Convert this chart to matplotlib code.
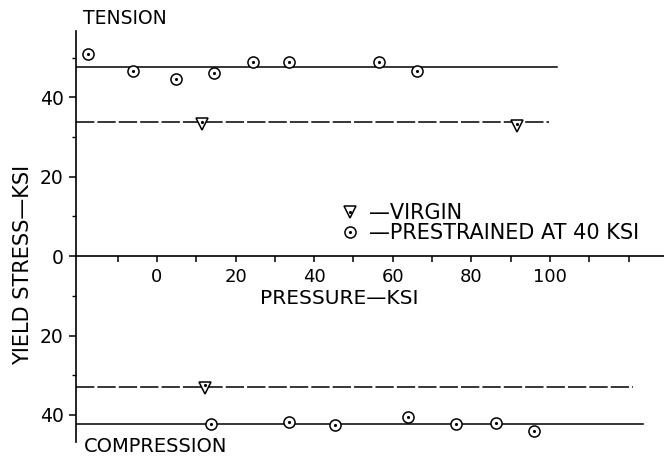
import matplotlib
matplotlib.use("Agg")
import matplotlib.pyplot as plt
from matplotlib.ticker import FixedLocator, FuncFormatter
from matplotlib.lines import Line2D

# tension, prestrained at 40 ksi
ten_pre_p = [-17.6, -6.2, 4.8, 14.5, 24.4, 33.5, 56.6, 66.1]
ten_pre_s = [50.8, 46.6, 44.5, 46.0, 48.9, 49.0, 48.9, 46.6]
# tension, virgin
ten_vir_p = [11.5, 91.5]
ten_vir_s = [33.2, 32.8]
# compression (drawn below zero)
com_pre_p = [13.7, 33.5, 45.2, 63.9, 76.1, 86.3, 95.8]
com_pre_s = [-42.3, -41.7, -42.6, -40.5, -42.3, -42.0, -44.0]
com_vir_p = [12.2]
com_vir_s = [-33.1]

# average levels (value, right end of line)
ten_pre_avg = (47.6, 101.8)
ten_vir_avg = (33.75, 99.7)
com_vir_avg = (-32.9, 121.0)
com_pre_avg = (-42.3, 123.7)

x_major = [0, 20, 40, 60, 80, 100]
x_minor = [-10, 10, 30, 50, 70, 90, 110, 120]
y_major = [-40, -20, 0, 20, 40]
y_minor = [-30, -10, 10, 30, 50]

xmin, xmax = -20.6, 129.0
ymin, ymax = -46.8, 56.7

plt.rcParams['font.family'] = ['DejaVu Sans']
fig = plt.figure(figsize=(6.64, 4.59), dpi=100)
ax = fig.add_axes([76/664, 1 - 442/459, 1 - 76/664, (442 - 31)/459])
ax.set_xlim(xmin, xmax)
ax.set_ylim(ymin, ymax)

lw = 1.1
# average lines
ax.plot([xmin, ten_pre_avg[1]], [ten_pre_avg[0]] * 2, color='black', lw=lw)
ax.plot([xmin, com_pre_avg[1]], [com_pre_avg[0]] * 2, color='black', lw=lw)
ax.plot([xmin, ten_vir_avg[1]], [ten_vir_avg[0]] * 2, color='black', lw=lw, dashes=(12, 2))
ax.plot([xmin, com_vir_avg[1]], [com_vir_avg[0]] * 2, color='black', lw=lw, dashes=(12, 2))

circ = dict(ls='none', marker='o', ms=8, mfc='white', mec='black', mew=1.1, zorder=3)
tri = dict(ls='none', marker='v', ms=8.5, mfc='white', mec='black', mew=1.1, zorder=3)
dot = dict(ls='none', marker='.', ms=2.5, color='black', zorder=4)

for p, s in [(ten_pre_p, ten_pre_s), (com_pre_p, com_pre_s)]:
    ax.plot(p, s, **circ)
    ax.plot(p, s, **dot)
for p, s in [(ten_vir_p, ten_vir_s), (com_vir_p, com_vir_s)]:
    ax.plot(p, s, **tri)
    ax.plot(p, [v + 0.6 for v in s], **dot)

# axes styling
for side in ['top', 'right']:
    ax.spines[side].set_visible(False)
ax.spines['bottom'].set_position(('data', 0))
ax.spines['left'].set_linewidth(1.2)
ax.spines['bottom'].set_linewidth(1.2)

ax.xaxis.set_major_locator(FixedLocator(x_major))
ax.xaxis.set_minor_locator(FixedLocator(x_minor))
ax.yaxis.set_major_locator(FixedLocator(y_major))
ax.yaxis.set_minor_locator(FixedLocator(y_minor))
ax.yaxis.set_major_formatter(FuncFormatter(lambda v, pos: f"{abs(v):.0f}"))
ax.tick_params(axis='x', which='both', direction='out', length=4.5, width=1.1, pad=4, labelsize=13)
ax.tick_params(axis='y', which='major', direction='out', length=5, width=1.1, pad=4, labelsize=13.5)
ax.tick_params(axis='y', which='minor', direction='out', length=3, width=1.0)

# labels
fig.text(339/664, 1 - 298/459, 'PRESSURE—KSI', ha='center', va='center', fontsize=14.5)
fig.text(23/664, 1 - 265/459, 'YIELD STRESS—KSI', ha='center', va='center',
         rotation=90, fontsize=15)
fig.text(83/664, 1 - 18/459, 'TENSION', ha='left', va='center', fontsize=13.5)
fig.text(84/664, 1 - 447/459, 'COMPRESSION', ha='left', va='center', fontsize=14)

# legend
h_vir = (Line2D([], [], **tri), Line2D([], [], **dot))
h_pre = (Line2D([], [], **circ), Line2D([], [], **dot))
ax.legend([h_vir, h_pre], ['—VIRGIN', '—PRESTRAINED AT 40 KSI'],
          loc='upper left', bbox_to_anchor=(342/664, 1 - 203/459),
          bbox_transform=fig.transFigure, frameon=False, fontsize=15,
          handlelength=0.8, handletextpad=0.5, labelspacing=0.0,
          borderpad=0, borderaxespad=0)

fig.savefig('out.png', dpi=100)
